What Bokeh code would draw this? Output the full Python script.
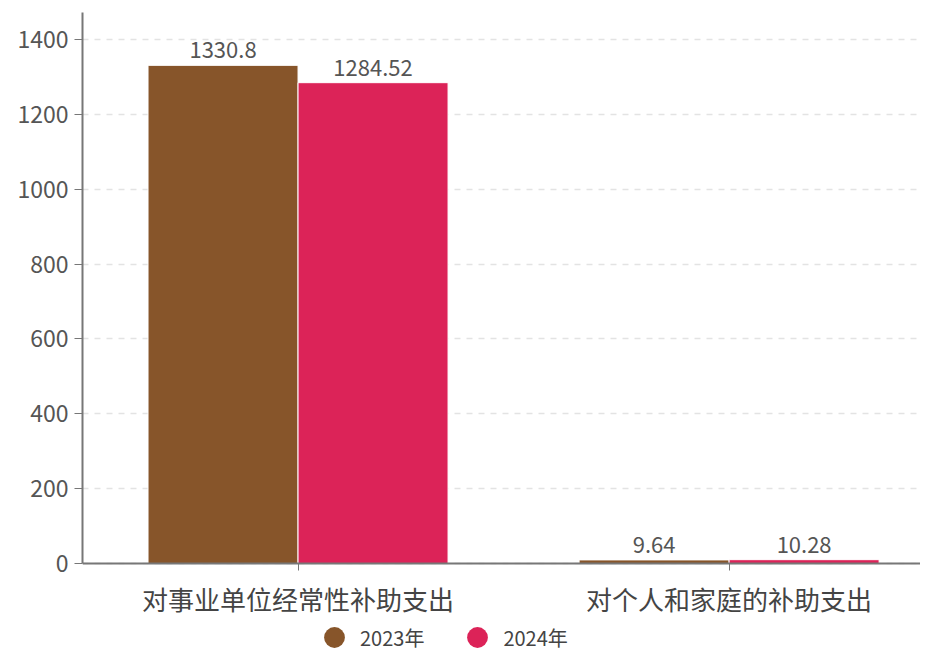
from bokeh.plotting import figure
from bokeh.models import ColumnDataSource, Range1d, FixedTicker, LabelSet, Legend, LegendItem
from bokeh.core.properties import value
from bokeh.embed import file_html
from bokeh.resources import INLINE

categories = ["对事业单位经常性补助支出", "对个人和家庭的补助支出"]
series_names = ["2023年", "2024年"]
values_2023 = [1330.8, 9.64]
values_2024 = [1284.52, 10.28]
label_2023 = ["1330.8", "9.64"]
label_2024 = ["1284.52", "10.28"]
y_ticks = [0, 200, 400, 600, 800, 1000, 1200, 1400]

colors = ["#87552A", "#DC2358"]
FONT = "Noto Sans CJK SC"

xc = [i + 0.5 for i in range(len(categories))]
bw = 0.348
src23 = ColumnDataSource(dict(x=[c - bw / 2 for c in xc], top=values_2023, lab=label_2023))
src24 = ColumnDataSource(dict(x=[c + bw / 2 for c in xc], top=values_2024, lab=label_2024))

p = figure(width=920, height=651, output_backend="svg", toolbar_location=None,
           x_range=Range1d(0, 1.944), y_range=Range1d(-235, 1472),
           min_border_left=82, min_border_right=0, min_border_top=12, min_border_bottom=0)
p.outline_line_color = None
p.background_fill_color = "white"

r1 = p.vbar(x="x", top="top", width=bw, bottom=0, source=src23, fill_color=colors[0],
            line_color="white", line_width=1)
r2 = p.vbar(x="x", top="top", width=bw, bottom=0, source=src24, fill_color=colors[1],
            line_color="white", line_width=1)

for s in (src23, src24):
    p.add_layout(LabelSet(x="x", y="top", text="lab", source=s, text_align="center",
                          text_baseline="bottom", y_offset=7, text_font=value(FONT),
                          text_font_size="22px", text_color="#555555"))

# axes
p.xaxis.fixed_location = 0
p.xaxis.ticker = FixedTicker(ticks=xc)
p.xaxis.major_label_overrides = {xc[i]: categories[i] for i in range(len(categories))}
p.xaxis.major_label_text_font = FONT
p.xaxis.major_label_text_font_size = "26px"
p.xaxis.major_label_text_color = "#444444"
p.xaxis.major_label_standoff = 9
p.xaxis.axis_line_color = "#777777"
p.xaxis.axis_line_width = 2
p.xaxis.major_tick_line_color = "#777777"
p.xaxis.major_tick_in = 0
p.xaxis.major_tick_out = 7
p.xaxis.minor_tick_line_color = None

p.yaxis.ticker = FixedTicker(ticks=y_ticks)
p.yaxis.bounds = (0, 1472)
p.yaxis.major_label_text_font = FONT
p.yaxis.major_label_text_font_size = "23px"
p.yaxis.major_label_text_color = "#555555"
p.yaxis.axis_line_color = "#777777"
p.yaxis.axis_line_width = 2
p.yaxis.major_tick_line_color = "#777777"
p.yaxis.major_tick_in = 0
p.yaxis.major_tick_out = 8
p.yaxis.minor_tick_line_color = None
p.yaxis.major_label_standoff = 6

p.xgrid.grid_line_color = None
p.ygrid.grid_line_color = "#e3e3e3"
p.ygrid.grid_line_dash = "6 6"
p.ygrid.grid_line_width = 1.5

# legend proxies (zero-size markers, only their legend swatch is seen)
l1 = p.scatter(x=[xc[0]], y=[0], marker="circle", size=0, fill_color=colors[0], line_color=None)
l2 = p.scatter(x=[xc[0]], y=[0], marker="circle", size=0, fill_color=colors[1], line_color=None)
legend = Legend(items=[LegendItem(label=series_names[0], renderers=[l1]),
                       LegendItem(label=series_names[1], renderers=[l2])],
                orientation="horizontal", location=(226, -12),
                label_text_font=FONT, label_text_font_size="20px", label_text_color="#444444",
                glyph_width=52, glyph_height=52, spacing=27, label_standoff=0,
                border_line_color=None, background_fill_alpha=0, padding=0, margin=0)
p.add_layout(legend, "center")

open("out.html", "w").write(file_html(p, INLINE))
